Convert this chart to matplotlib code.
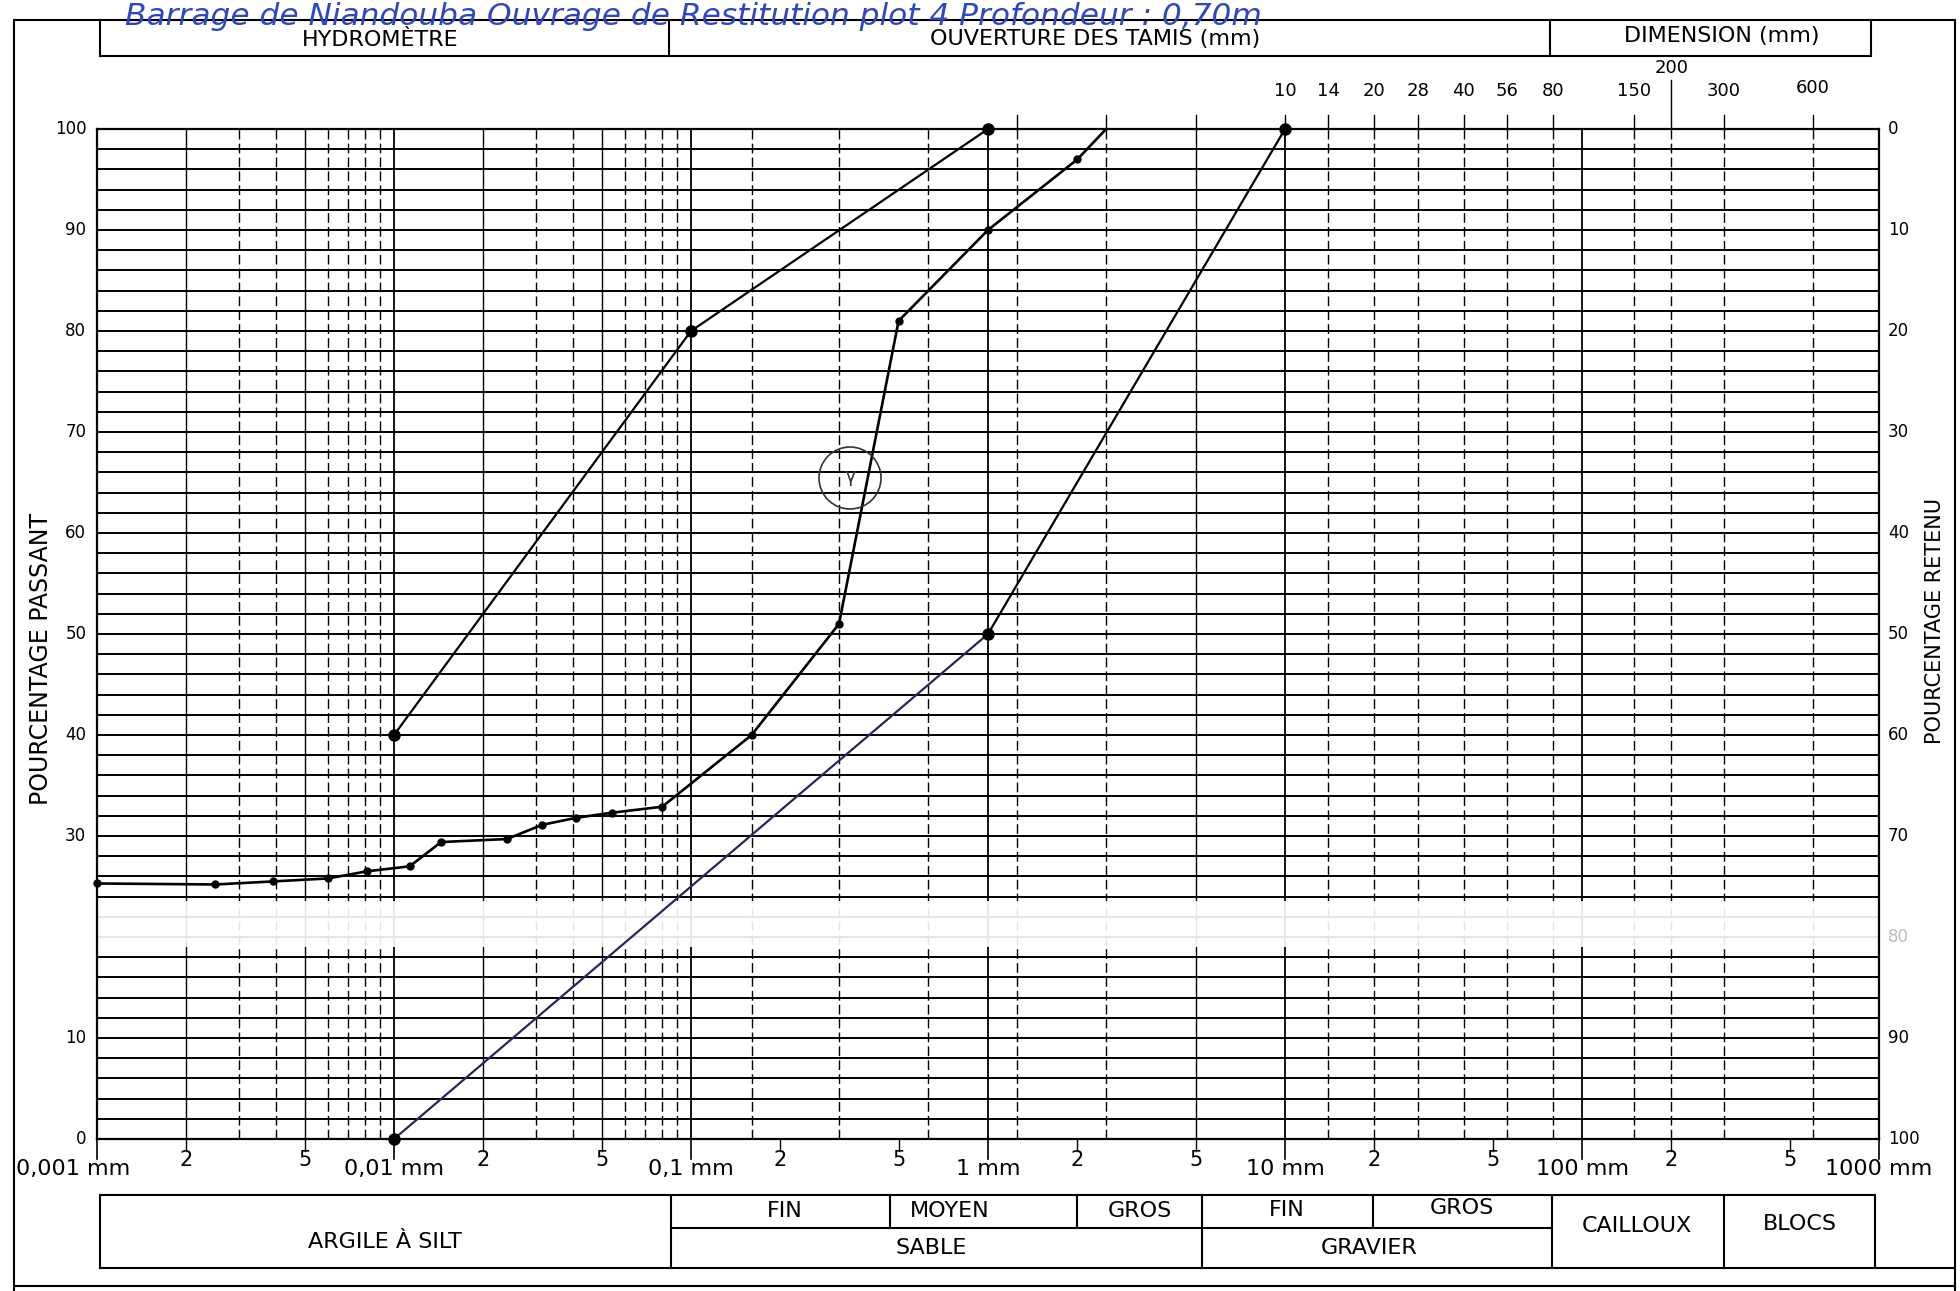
import numpy as np
import matplotlib.pyplot as plt
from matplotlib.patches import Circle
from matplotlib.ticker import NullLocator

# --- donnees ---
# echantillon (plot 4, profondeur 0,70 m) : diametre (mm) / % passant
ech_d = [0.001, 0.0025, 0.0039, 0.006, 0.0081, 0.0113, 0.0144, 0.024, 0.0315,
         0.041, 0.054, 0.08, 0.16, 0.315, 0.5, 1.0, 2.0, 2.5]
ech_p = [25.3, 25.2, 25.5, 25.8, 26.5, 27.0, 29.4, 29.7, 31.1,
         31.8, 32.3, 32.9, 40.0, 51.0, 81.0, 90.0, 97.0, 100.0]

# limites du fuseau
fus_fin_d = [0.01, 0.1, 1.0]
fus_fin_p = [40, 80, 100]
fus_gros_d = [0.01, 1.0, 10.0]
fus_gros_p = [0, 50, 100]

# grille du formulaire
tamis = [0.16, 0.315, 0.63, 1.25, 2.5, 14, 20, 28, 40, 56, 80]
tamis_haut = [10, 14, 20, 28, 40, 56, 80]
dims = [150, 200, 300, 600]
decades = [0.001, 0.01, 0.1, 1, 10, 100, 1000]
decade_lbl = ["0,001 mm", "0,01 mm", "0,1 mm", "1 mm", "10 mm", "100 mm", "1000 mm"]
passant_ticks = [0, 10, 30, 40, 50, 60, 70, 80, 90, 100]   # le 20 est efface sur le scan
retenu_ticks = [0, 10, 20, 30, 40, 50, 60, 70, 80, 90, 100]

W, H = 1960, 1291
L, R, T, B = 97, 1879, 129, 1139

fig = plt.figure(figsize=(W / 100, H / 100), dpi=100)
ax = fig.add_axes([L / W, 1 - B / H, (R - L) / W, (B - T) / H], zorder=1)
ax.set_xscale("log")
ax.set_xlim(0.001, 1000)
ax.set_ylim(0, 100)
ax.xaxis.set_major_locator(NullLocator())
ax.xaxis.set_minor_locator(NullLocator())
ax.yaxis.set_major_locator(NullLocator())
for s in ax.spines.values():
    s.set_linewidth(1.6)

dash = (0, (7, 3))
# lignes horizontales tous les 2 %
for y in np.arange(0, 101, 2):
    ax.axhline(y, color="k", lw=1.4, zorder=1)
# verticales
for d0 in decades[1:-1]:
    ax.axvline(d0, color="k", lw=1.3, zorder=1)
for d0 in decades[:2]:
    for k in range(2, 10):
        ax.axvline(k * d0, color="k", lw=1.0, ls="-" if k in (2, 5) else dash, zorder=1)
for d in tamis + dims:
    ax.axvline(d, color="k", lw=1.0, ls=dash, zorder=1)
ax.axvline(5, color="k", lw=1.0, zorder=1)

# bande effacee du scan
ax.axhspan(19.0, 23.6, color="white", alpha=0.9, zorder=2, lw=0)

# courbes
ax.plot(fus_fin_d, fus_fin_p, color="k", lw=1.6, marker="o", ms=8, zorder=4, clip_on=False)
ax.plot(fus_gros_d[:2], fus_gros_p[:2], color="#26265e", lw=1.6, zorder=4)
ax.plot(fus_gros_d[1:], fus_gros_p[1:], color="k", lw=1.6, zorder=4, clip_on=False)
ax.plot(fus_gros_d, fus_gros_p, ls="none", color="k", marker="o", ms=8, zorder=5, clip_on=False)
ax.plot(ech_d, ech_p, color="k", lw=1.9, marker="o", ms=5,
        markevery=list(range(len(ech_d) - 1)), zorder=4, clip_on=False)

xt = ax.get_xaxis_transform()
yt = ax.get_yaxis_transform()
hpx = 1.0 / (B - T)

# graduations du haut
for d in [1.25, 2.5, 5] + tamis_haut + dims:
    top = 1 + (49 if d == 200 else 14) * hpx
    ax.plot([d, d], [1, top], transform=xt, color="k", lw=1.0, clip_on=False)
for d in tamis_haut:
    ax.text(d, 1 + 38 * hpx, str(d), transform=xt, ha="center", va="center", fontsize=13)
for d in dims:
    off = 61 if d == 200 else (41 if d == 600 else 38)
    ax.text(d, 1 + off * hpx, str(d), transform=xt, ha="center", va="center", fontsize=13)

# graduations du bas
for i, d0 in enumerate(decades):
    ax.plot([d0, d0], [0, -20 * hpx], transform=xt, color="k", lw=1.2, clip_on=False)
    xl = 0.00083 if i == 0 else d0
    ax.text(xl, -30 * hpx, decade_lbl[i], transform=xt, ha="center", va="center", fontsize=16)
    if d0 < 1000:
        for k in (2, 5):
            ax.plot([k * d0, k * d0], [0, -12 * hpx], transform=xt, color="k", lw=1.0, clip_on=False)
            ax.text(k * d0, -21 * hpx, str(k), transform=xt, ha="center", va="center", fontsize=15)

for p in passant_ticks:
    ax.text(-0.006, p, str(p), transform=yt, ha="right", va="center", fontsize=12)
for r in retenu_ticks:
    ax.text(1.005, 100 - r, str(r), transform=yt, ha="left", va="center", fontsize=12,
            color="#bbbbbb" if r == 80 else "k")

# cadre, entete et tableau de classification
ov = fig.add_axes([0, 0, 1, 1], zorder=5)
ov.set_xlim(0, W)
ov.set_ylim(H, 0)
ov.axis("off")


def hl(y, x0, x1, lw=1.5):
    ov.plot([x0, x1], [y, y], color="k", lw=lw)


def vl(x, y0, y1, lw=1.5):
    ov.plot([x, x], [y0, y1], color="k", lw=lw)


hl(20, 14, 1955)
vl(14, 20, 1291)
vl(1955, 20, 1291)
hl(56, 100, 1871)
for x in (100, 669, 1550, 1871):
    vl(x, 20, 56)
ov.text(380, 40, "HYDROMÈTRE", ha="center", va="center", fontsize=16)
ov.text(1095, 39, "OUVERTURE DES TAMIS (mm)", ha="center", va="center", fontsize=16)
ov.text(1722, 36, "DIMENSION (mm)", ha="center", va="center", fontsize=16)

ov.text(125, 25, "Barrage de Niandouba Ouvrage de Restitution plot 4 Profondeur : 0,70m",
        color="#2d47c4", fontsize=22.5, style="italic", va="baseline")

ov.text(41, 659, "POURCENTAGE PASSANT", rotation=90, ha="center", va="center", fontsize=17)
ov.text(1935, 621, "POURCENTAGE RETENU", rotation=90, ha="center", va="center", fontsize=15)

# tableau du bas
tt, tm, tb = 1195, 1228, 1268
hl(tt, 100, 1875)
hl(tm, 671, 1550)
hl(tb, 100, 1955)
for x in (100, 671, 1202, 1552, 1724, 1875):
    vl(x, tt, tb)
for x in (890, 1077, 1373):
    vl(x, tt, tm)
hl(1286, 14, 1955)
cells = [("ARGILE À SILT", 385, 1242), ("FIN", 785, 1211), ("MOYEN", 950, 1211),
         ("GROS", 1140, 1211), ("SABLE", 931, 1248), ("FIN", 1287, 1210),
         ("GROS", 1462, 1208), ("GRAVIER", 1369, 1248), ("CAILLOUX", 1637, 1226),
         ("BLOCS", 1800, 1224)]
for txt, x, y in cells:
    ov.text(x, y, txt, ha="center", va="center", fontsize=16)

# annotation au stylo
ov.add_patch(Circle((850, 478), 31, fill=False, lw=1.2, color="#333333"))
ov.text(850, 476, "γ", ha="center", va="center", fontsize=14, color="#333333")

fig.savefig("out.png", dpi=100)
